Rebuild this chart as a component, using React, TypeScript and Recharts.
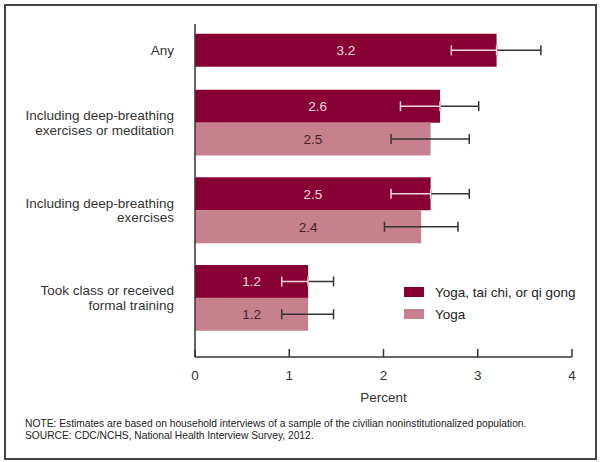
import React from "react"
import { BarChart, Bar, XAxis, YAxis, ErrorBar, LabelList, Legend } from "recharts"

const FONT = "'Liberation Sans', Arial, Helvetica, sans-serif"
const DARK = "#880033"
const LIGHT = "#c7808e"

// category labels (one entry per group, split into lines) and where they sit on the slot axis
const categories = [
  ["Any"],
  ["Including deep-breathing", "exercises or meditation"],
  ["Including deep-breathing", "exercises"],
  ["Took class or received", "formal training"],
]
const categorySlots = [2.4, 9, 17, 25]

const seriesNames = ["Yoga, tai chi, or qi gong", "Yoga"]

// one row per bar
const rowSlots = [2.4, 7.5, 10.5, 15.5, 18.5, 23.5, 26.5]
const taiChiValues = [3.2, 2.6, null, 2.5, null, 1.2, null]
const yogaValues = [null, null, 2.5, null, 2.4, null, 1.2]
const taiChiLow = [0.48, 0.42, null, 0.42, null, 0.28, null]
const taiChiHigh = [0.47, 0.41, null, 0.41, null, 0.27, null]
const yogaLow = [null, null, 0.42, null, 0.39, null, 0.28]
const yogaHigh = [null, null, 0.41, null, 0.39, null, 0.27]

const xTicks = [0, 1, 2, 3, 4]

const data = rowSlots.map((slot, i) => ({
  slot,
  taiChi: taiChiValues[i],
  yoga: yogaValues[i],
  taiChiIn: taiChiValues[i] == null ? null : [taiChiLow[i], 0],
  taiChiOut: taiChiValues[i] == null ? null : [0, taiChiHigh[i]],
  yogaErr: yogaValues[i] == null ? null : [yogaLow[i], yogaHigh[i]],
}))

const fmt = (v: any) => (v == null ? "" : Number(v).toFixed(1))

function CategoryTick(props: any) {
  const { x, y, payload } = props
  const lines = categories[categorySlots.indexOf(payload.value)] || []
  const lh = 14.5
  return (
    <text x={x} y={y} textAnchor="end" fill="#333" fontSize={13.5} fontFamily={FONT}>
      {lines.map((line, i) => (
        <tspan key={i} x={x} dy={i === 0 ? -((lines.length - 1) * lh) / 2 + 4.7 : lh}>
          {line}
        </tspan>
      ))}
    </text>
  )
}

function LegendBox(props: any) {
  const items = [...(props.payload || [])].sort(
    (a: any, b: any) => seriesNames.indexOf(a.value) - seriesNames.indexOf(b.value)
  )
  return (
    <div style={{ fontFamily: FONT, fontSize: 13.5, color: "#222" }}>
      {items.map((p: any) => (
        <div key={p.value} style={{ display: "flex", alignItems: "center", height: 22 }}>
          <span style={{ width: 20, height: 10, background: p.color, marginRight: 11, display: "inline-block" }} />
          <span>{p.value}</span>
        </div>
      ))}
    </div>
  )
}

export default function App() {
  return (
    <div style={{ position: "absolute", left: 0, top: 0, width: 600, height: 462, background: "#fff", fontFamily: FONT }}>
      <div
        style={{
          position: "absolute",
          left: 4,
          top: 4,
          width: 589,
          height: 452,
          border: "2px solid #444",
        }}
      />
      <div style={{ position: "absolute", left: 0, top: 0 }}>
        <BarChart
          width={600}
          height={462}
          data={data}
          layout="vertical"
          margin={{ top: 24, right: 28, bottom: 59, left: 0 }}
          barCategoryGap={0}
        >
          <XAxis
            type="number"
            domain={[0, 4]}
            ticks={xTicks}
            tickSize={-8}
            tickMargin={21}
            height={46}
            axisLine={{ stroke: "#333", strokeWidth: 1.5 }}
            tickLine={{ stroke: "#333", strokeWidth: 1.5 }}
            tick={{ fill: "#333", fontSize: 13.5, fontFamily: FONT }}
            label={{ value: "Percent", position: "insideBottom", offset: 1, fill: "#333", fontSize: 13.5, fontFamily: FONT }}
          />
          <YAxis
            type="number"
            dataKey="slot"
            domain={[0, 30.4]}
            ticks={categorySlots}
            interval={0}
            width={195}
            tickSize={0}
            tickMargin={21}
            tickLine={false}
            axisLine={{ stroke: "#333", strokeWidth: 1.5 }}
            tick={<CategoryTick />}
          />
          <Legend
            layout="vertical"
            align="center"
            verticalAlign="middle"
            wrapperStyle={{ left: 404, top: 281, width: 190 }}
            content={<LegendBox />}
          />
          <Bar dataKey="taiChi" name={seriesNames[0]} stackId="s" fill={DARK} isAnimationActive={false}>
            <ErrorBar dataKey="taiChiOut" direction="x" width={5} stroke="#333" strokeWidth={1.5} />
            <ErrorBar dataKey="taiChiIn" direction="x" width={5} stroke="#f6d5df" strokeWidth={1.5} />
            <LabelList dataKey="taiChi" position="center" fill="#f6d8e1" fontSize={13.5} fontFamily={FONT} formatter={fmt} />
          </Bar>
          <Bar dataKey="yoga" name={seriesNames[1]} stackId="s" fill={LIGHT} isAnimationActive={false}>
            <ErrorBar dataKey="yogaErr" direction="x" width={5} stroke="#333" strokeWidth={1.5} />
            <LabelList dataKey="yoga" position="center" fill="#4a1f2b" fontSize={13.5} fontFamily={FONT} formatter={fmt} />
          </Bar>
        </BarChart>
      </div>
      <div
        style={{
          position: "absolute",
          left: 25,
          top: 418,
          fontSize: 10.25,
          lineHeight: "11.5px",
          color: "#222",
        }}
      >
        NOTE: Estimates are based on household interviews of a sample of the civilian noninstitutionalized population.
        <br />
        SOURCE: CDC/NCHS, National Health Interview Survey, 2012.
      </div>
    </div>
  )
}
